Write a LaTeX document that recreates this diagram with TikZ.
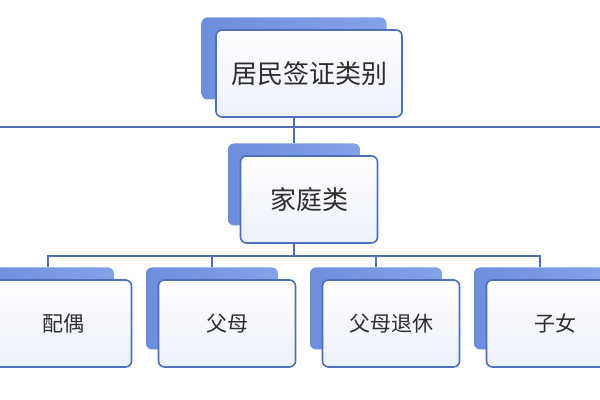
\documentclass[tikz,border=0pt]{standalone}
\usepackage{fontspec}
\newfontfamily\cjk{Noto Sans CJK SC}
\usepackage{tikz}
\usetikzlibrary{calc}

\definecolor{linkblue}{RGB}{80,112,175}
\definecolor{cardedge}{RGB}{78,110,190}
\definecolor{backdark}{RGB}{108,142,220}
\definecolor{backlight}{RGB}{132,162,232}
\definecolor{cardlow}{RGB}{236,240,249}
\definecolor{inkgrey}{RGB}{45,45,45}

\begin{document}
\begin{tikzpicture}[node distance=62pt]
        \tikzstyle{card_back} = [rectangle, rounded corners=3pt, minimum width=66pt, minimum height=41pt, draw=none, left color=backdark, right color=backlight]
        \tikzstyle{card} = [rectangle, rounded corners=3pt, minimum width=68.5pt, minimum height=43.5pt, line width=0.8pt, draw=cardedge, top color=white, bottom color=cardlow, text=inkgrey, font=\cjk\fontsize{10.5pt}{12pt}\selectfont]
        \tikzstyle{big} = [font=\cjk\fontsize{13pt}{15pt}\selectfont]
        \tikzstyle{link} = [draw=linkblue, line width=0.8pt]
        \useasboundingbox (0,0) rectangle (300pt,-200pt);

        \node (visa_back) [card_back, minimum width=92.5pt] at (147pt,-29.25pt) {};
        \node (visa) [card, big, minimum width=93pt, xshift=7.5pt, yshift=-7.5pt] at (visa_back) {居民签证类别};

        \node (family_back) [card_back, below of=visa_back, yshift=-1pt] {};
        \node (family) [card, big, xshift=7.5pt, yshift=-7.5pt] at (family_back) {家庭类};

        \node (spouse_back) [card_back, below of=family_back, xshift=-123pt] {};
        \node (parents_back) [card_back, below of=family_back, xshift=-41pt] {};
        \node (retired_back) [card_back, below of=family_back, xshift=41pt] {};
        \node (children_back) [card_back, below of=family_back, xshift=123pt] {};
        \node (spouse) [card, xshift=7.5pt, yshift=-7.5pt] at (spouse_back) {配偶};
        \node (parents) [card, xshift=7.5pt, yshift=-7.5pt] at (parents_back) {父母};
        \node (retired) [card, xshift=7.5pt, yshift=-7.5pt] at (retired_back) {父母退休};
        \node (children) [card, xshift=7.5pt, yshift=-7.5pt] at (children_back) {子女};

        \coordinate (bus_left) at (0,-63.5pt);
        \coordinate (bus_right) at (300pt,-63.5pt);
        \coordinate (bus_low) at ($(family_back |- family.south) + (0,-6pt)$);
        \draw [link] (bus_left) -- (bus_right);
        \draw [link] (visa_back |- visa.south) -- (family_back.north);
        \draw [link] (family_back |- family.south) -- (bus_low);
        \draw [link] (spouse_back.north) |- (bus_low) -| (children_back.north);
        \draw [link] (parents_back.north) -- (parents_back |- bus_low);
        \draw [link] (retired_back.north) -- (retired_back |- bus_low);
    \end{tikzpicture}
\end{document}
